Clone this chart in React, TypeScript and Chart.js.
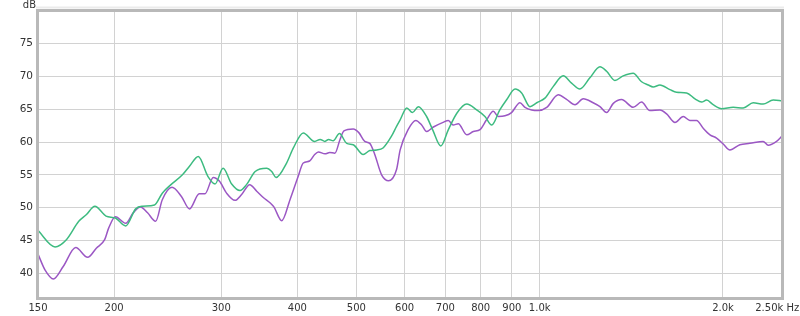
import React, { useEffect, useRef } from "react";
import { Chart, registerables } from "chart.js";

Chart.register(...registerables);

// Frequencies (Hz) and levels (dB)
const greenFreq = [150, 160, 167, 175, 180, 186, 194, 201, 209, 217, 223, 233, 240, 248, 259, 266, 275, 285, 293, 302, 312, 322, 330, 341, 356, 363, 369, 384, 394, 409, 427, 436, 444, 450, 458, 469, 482, 494, 513, 526, 540, 553, 571, 582, 590, 605, 618, 632, 652, 667, 688, 708, 731, 759, 788, 813, 834, 860, 883, 911, 934, 964, 989, 1020, 1053, 1093, 1128, 1164, 1209, 1256, 1288, 1329, 1371, 1424, 1470, 1508, 1536, 1576, 1636, 1678, 1743, 1799, 1845, 1880, 1927, 1990, 2079, 2159, 2242, 2328, 2418, 2500];
const greenDb = [46.5, 44.0, 45.1, 47.9, 48.9, 50.2, 48.7, 48.4, 47.2, 49.8, 50.2, 50.4, 52.2, 53.5, 55.0, 56.3, 57.8, 54.8, 53.6, 56.0, 53.6, 52.6, 53.5, 55.5, 56.0, 55.5, 54.6, 56.8, 59.1, 61.4, 60.1, 60.4, 60.1, 60.4, 60.2, 61.3, 59.8, 59.6, 58.1, 58.7, 58.8, 59.1, 60.9, 62.4, 63.4, 65.2, 64.5, 65.4, 63.9, 61.9, 59.4, 61.9, 64.4, 65.8, 64.9, 63.9, 62.6, 64.9, 66.5, 68.1, 67.5, 65.4, 66.0, 66.7, 68.5, 70.1, 69.0, 68.1, 69.8, 71.5, 70.8, 69.4, 70.1, 70.5, 69.2, 68.7, 68.4, 68.7, 68.0, 67.6, 67.5, 66.6, 66.1, 66.4, 65.7, 65.1, 65.3, 65.2, 66.0, 65.8, 66.4, 66.3];

const purpleFreq = [150, 154, 159, 165, 173, 181, 187, 193, 196, 201, 209, 215, 221, 227, 234, 240, 249, 258, 266, 276, 282, 291, 298, 306, 316, 324, 334, 343, 352, 361, 366, 377, 389, 401, 409, 419, 427, 433, 444, 452, 461, 470, 477, 494, 505, 516, 526, 536, 550, 565, 582, 590, 608, 626, 640, 652, 669, 694, 708, 721, 735, 759, 778, 798, 818, 839, 855, 877, 899, 928, 946, 970, 994, 1027, 1073, 1107, 1143, 1179, 1224, 1256, 1288, 1321, 1363, 1424, 1470, 1517, 1576, 1616, 1668, 1721, 1765, 1810, 1856, 1904, 1952, 2002, 2053, 2132, 2214, 2328, 2373, 2449, 2500];
const purpleDb = [42.9, 40.5, 39.1, 41.0, 43.9, 42.4, 43.8, 45.1, 46.9, 48.6, 47.6, 49.2, 50.1, 49.2, 47.9, 51.2, 53.1, 51.7, 49.8, 52.1, 52.1, 54.6, 54.0, 52.2, 51.1, 52.0, 53.5, 52.5, 51.5, 50.7, 50.1, 48.0, 51.2, 54.7, 56.8, 57.1, 58.1, 58.5, 58.2, 58.4, 58.3, 60.4, 61.7, 62.0, 61.4, 60.1, 59.8, 58.1, 55.0, 54.1, 55.8, 58.8, 61.9, 63.3, 62.6, 61.6, 62.3, 63.0, 63.3, 62.6, 62.8, 61.1, 61.6, 61.9, 63.4, 64.7, 63.9, 64.0, 64.5, 66.0, 65.3, 64.9, 64.8, 65.3, 67.2, 66.5, 65.7, 66.6, 66.0, 65.4, 64.5, 65.9, 66.5, 65.3, 66.1, 64.8, 64.9, 64.3, 63.0, 63.9, 63.3, 63.3, 62.1, 61.1, 60.6, 59.7, 58.8, 59.6, 59.8, 60.1, 59.5, 60.1, 60.9];

const xTicks = [150, 200, 300, 400, 500, 600, 700, 800, 900, 1000, 2000, 2500];
const xTickLabels = ["150", "200", "300", "400", "500", "600", "700", "800", "900", "1.0k", "2.0k", "2.50k Hz"];
const yTicks = [40, 45, 50, 55, 60, 65, 70, 75];
const yUnit = "dB";

const FONT = "DejaVu Sans";

const framePlugin = {
  id: "frame",
  afterDatasetsDraw(chart: any) {
    const { ctx, chartArea: a } = chart;
    ctx.save();
    ctx.strokeStyle = "rgba(0,0,0,0.08)";
    ctx.lineWidth = 2;
    ctx.beginPath();
    ctx.moveTo(a.left - 2, a.top - 3.5);
    ctx.lineTo(a.right + 2, a.top - 3.5);
    ctx.stroke();
    ctx.strokeStyle = "#b9b9b9";
    ctx.lineWidth = 3;
    ctx.strokeRect(a.left - 0.5, a.top - 0.5, a.right - a.left + 1, a.bottom - a.top + 1);
    ctx.restore();
  },
  afterDraw(chart: any) {
    const { ctx, chartArea: a } = chart;
    ctx.save();
    ctx.fillStyle = "#333";
    ctx.font = `10px "${FONT}"`;
    ctx.textAlign = "right";
    ctx.textBaseline = "alphabetic";
    ctx.fillText(yUnit, a.left - 2, 8);
    ctx.restore();
  },
};

export default function App() {
  const ref = useRef<HTMLCanvasElement | null>(null);
  useEffect(() => {
    if (!ref.current) return;
    const chart = new Chart(ref.current, {
      type: "line",
      data: {
        datasets: [
          {
            data: greenFreq.map((f, i) => ({ x: f, y: greenDb[i] })),
            borderColor: "#3dbb80",
            borderWidth: 1.5,
            pointRadius: 0,
            cubicInterpolationMode: "monotone",
            fill: false,
          },
          {
            data: purpleFreq.map((f, i) => ({ x: f, y: purpleDb[i] })),
            borderColor: "#9b57c4",
            borderWidth: 1.5,
            pointRadius: 0,
            cubicInterpolationMode: "monotone",
            fill: false,
          },
        ],
      },
      options: {
        animation: false,
        responsive: true,
        maintainAspectRatio: false,
        layout: { padding: { top: 11, right: 18, left: 0, bottom: 0 } },
        plugins: { legend: { display: false }, tooltip: { enabled: false } },
        scales: {
          x: {
            type: "logarithmic",
            min: 150,
            max: 2500,
            afterBuildTicks: (s: any) => {
              s.ticks = xTicks.map((v) => ({ value: v }));
            },
            afterFit: (s: any) => {
              s.height = 18;
              s.paddingLeft = 0;
              s.paddingRight = 0;
            },
            ticks: {
              autoSkip: false,
              maxRotation: 0,
              minRotation: 0,
              padding: 4,
              color: "#333",
              font: { family: FONT, size: 10 },
              callback: (v: any) => {
                const i = xTicks.indexOf(Number(v));
                if (i < 0) return "";
                return i === xTicks.length - 1 ? xTickLabels[i] + "   " : xTickLabels[i];
              },
            },
            grid: { color: "#d2d2d2", lineWidth: 1, drawTicks: false },
            border: { display: false },
          },
          y: {
            type: "linear",
            min: 36.2,
            max: 80,
            afterBuildTicks: (s: any) => {
              s.ticks = yTicks.map((v) => ({ value: v }));
            },
            afterFit: (s: any) => {
              s.width = 38;
              s.paddingTop = 0;
              s.paddingBottom = 0;
            },
            ticks: {
              padding: 5,
              color: "#333",
              font: { family: FONT, size: 10.5 },
              callback: (v: any) => String(v),
            },
            grid: { color: "#d2d2d2", lineWidth: 1, drawTicks: false },
            border: { display: false },
          },
        },
      },
      plugins: [framePlugin],
    } as any);
    return () => chart.destroy();
  }, []);

  return (
    <div style={{ position: "fixed", left: 0, top: 0, width: 800, height: 316, background: "#fff" }}>
      <canvas ref={ref} />
    </div>
  );
}
